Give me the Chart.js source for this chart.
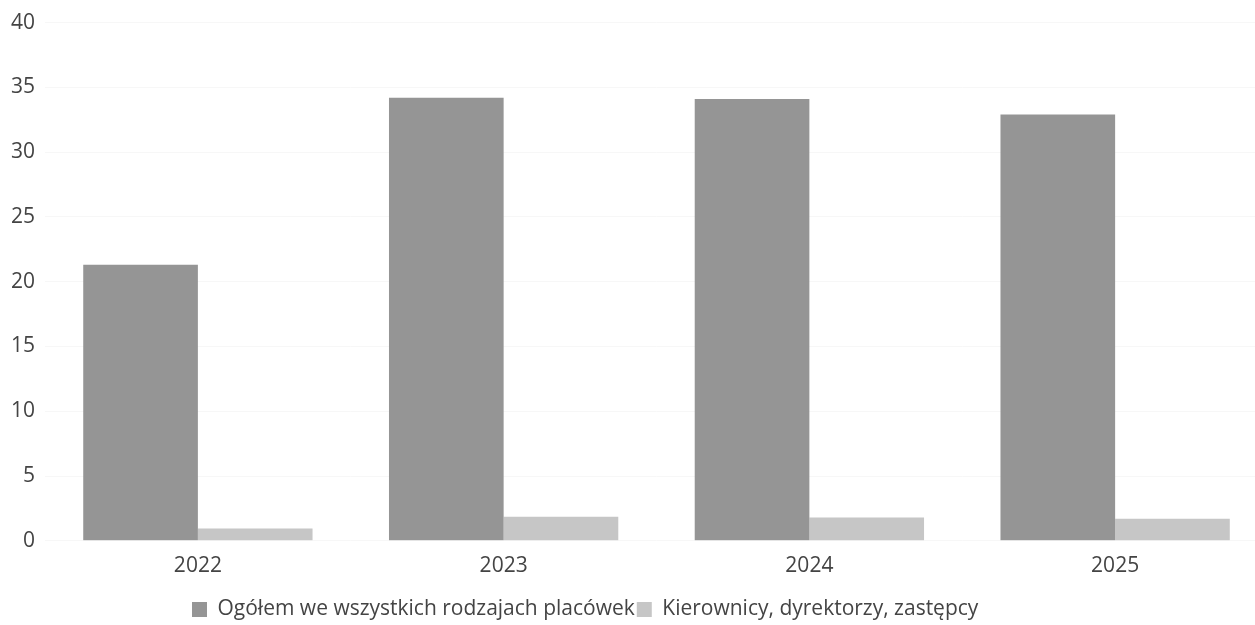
<!DOCTYPE html>
<html>
<head>
<meta charset="utf-8">
<script src="https://cdn.jsdelivr.net/npm/chart.js@4.4.1/dist/chart.umd.min.js"></script>
<style>
  html, body { margin: 0; padding: 0; background: #fff; overflow: hidden; }
  #wrap { width: 1268px; height: 625px; }
</style>
</head>
<body>
<div id="wrap"><canvas id="chart"></canvas></div>
<script>
const years = ['2022', '2023', '2024', '2025'];
const ogolem = [21.3, 34.2, 34.1, 32.9];
const kierownicy = [0.95, 1.85, 1.8, 1.7];
const yTicks = [0, 5, 10, 15, 20, 25, 30, 35, 40];

const seriesNames = ['Ogółem we wszystkich rodzajach placówek', 'Kierownicy, dyrektorzy, zastępcy'];

// legend sits left of centre and a little lower in the original
const legendLeft = 190;
const legendTop = 597;
const shiftLegend = {
    id: 'shiftLegend',
    afterLayout(chart) {
        const lg = chart.legend;
        const w = lg.right - lg.left;
        const h = lg.bottom - lg.top;
        lg.left = legendLeft;
        lg.right = legendLeft + w;
        lg.top = legendTop;
        lg.bottom = legendTop + h;
    }
};

const font = { family: 'Open Sans', size: 21 };

const ctx = document.getElementById('chart').getContext('2d');
new Chart(ctx, {
    type: 'bar',
    data: {
        labels: years,
        datasets: [
            {
                label: seriesNames[0],
                data: ogolem,
                backgroundColor: '#959595',
                borderWidth: 0
            },
            {
                label: seriesNames[1],
                data: kierownicy,
                backgroundColor: '#c6c6c6',
                borderWidth: 0
            }
        ]
    },
    options: {
        responsive: true,
        maintainAspectRatio: false,
        animation: false,
        layout: { padding: { left: 1, top: 13, right: 0, bottom: 8 } },
        datasets: { bar: { categoryPercentage: 0.75, barPercentage: 1.0 } },
        scales: {
            x: {
                grid: { display: false },
                border: { display: false },
                ticks: { color: '#444', font: font, padding: 5 }
            },
            y: {
                min: 0,
                max: 40,
                afterBuildTicks: axis => { axis.ticks = yTicks.map(v => ({ value: v })); },
                grid: { color: '#f7f7f7', drawTicks: false },
                border: { display: false },
                ticks: { color: '#444', font: font, padding: 10 }
            }
        },
        plugins: {
            tooltip: { enabled: false },
            legend: {
                position: 'bottom',
                align: 'start',
                labels: {
                    color: '#444',
                    font: font,
                    boxWidth: 15,
                    boxHeight: 15,
                    padding: 2
                }
            }
        }
    },
    plugins: [shiftLegend]
});
</script>
</body>
</html>
